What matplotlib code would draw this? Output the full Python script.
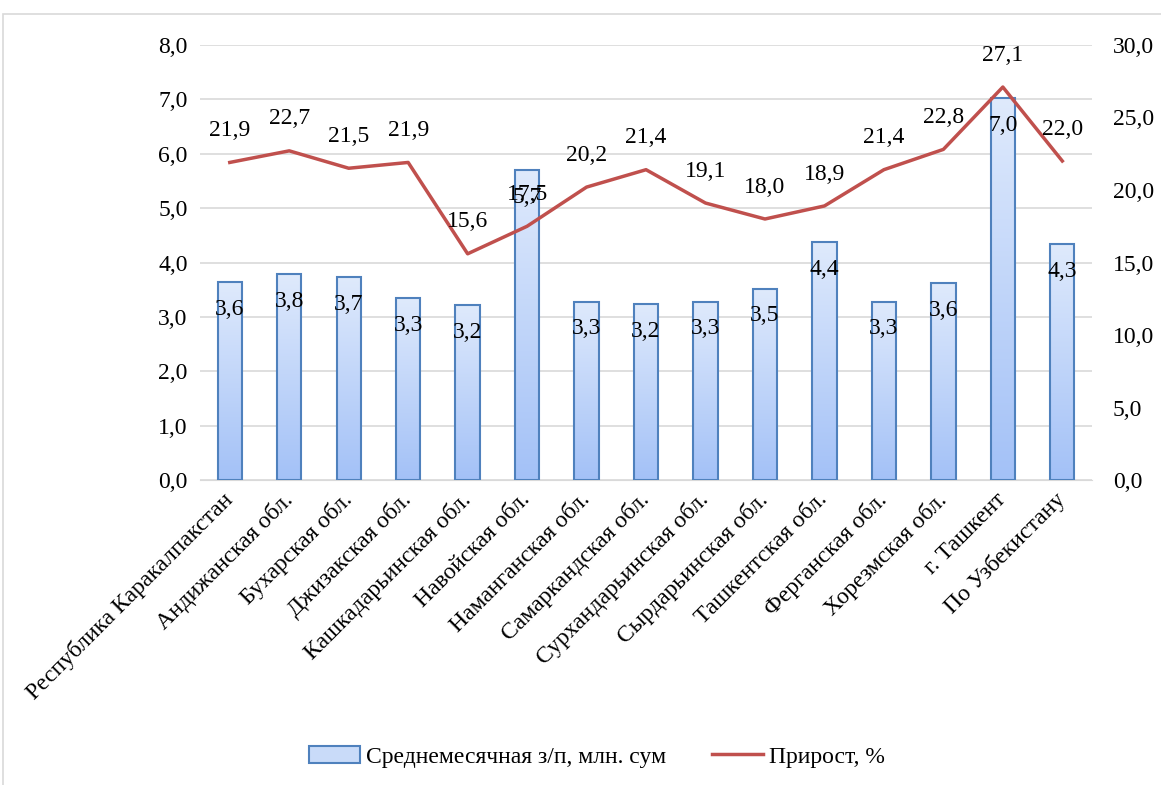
import numpy as np
import matplotlib.pyplot as plt
import matplotlib.transforms as mtransforms
from matplotlib.patches import Rectangle
from matplotlib.colors import LinearSegmentedColormap

plt.rcParams['font.family'] = ['Liberation Serif', 'DejaVu Serif']

# Donnees
regions = ['Республика Каракалпакстан', 'Андижанская обл.', 'Бухарская обл.',
           'Джизакская обл.', 'Кашкадарьинская обл.', 'Навойская обл.',
           'Наманганская обл.', 'Самаркандская обл.', 'Сурхандарьинская обл.',
           'Сырдарьинская обл.', 'Ташкентская обл.', 'Ферганская обл.',
           'Хорезмская обл.', 'г. Ташкент', 'По Узбекистану']
zp = [3.64, 3.78, 3.73, 3.34, 3.22, 5.70, 3.28, 3.24, 3.28, 3.52, 4.38, 3.28, 3.62, 7.02, 4.34]
prirost = [21.9, 22.7, 21.5, 21.9, 15.6, 17.5, 20.2, 21.4, 19.1, 18.0, 18.9, 21.4, 22.8, 27.1, 22.0]

fs = 17

fig = plt.figure(figsize=(11.61, 7.85), dpi=100)
ax = fig.add_axes([0.1723, 0.3885, 0.7683, 0.5542])
ax2 = ax.twinx()

x = np.arange(len(regions))
bars = ax.bar(x, zp, width=0.41, color='none', edgecolor='#4f81bd', linewidth=1.5, zorder=3,
              label='Среднемесячная з/п, млн. сум')

# degrade vertical dans chaque barre
grad = np.linspace(0, 1, 256).reshape(-1, 1)
cmap = LinearSegmentedColormap.from_list('bleu', ['#a3c1f7', '#dfeafc'])
for b in bars:
    x0, y0, w, h = b.get_x(), b.get_y(), b.get_width(), b.get_height()
    im = ax.imshow(grad, cmap=cmap, aspect='auto', extent=(x0, x0 + w, y0, y0 + h),
                   origin='lower', zorder=2)
    im.set_clip_path(b)

for xi, v in zip(x, zp):
    ax.text(xi, v - 0.5, f'{v:.1f}'.replace('.', ','), ha='center', va='center', fontsize=fs, zorder=5)

ax.set_xlim(-0.5, len(regions) - 0.5)
ax.set_ylim(0, 8)
ax.set_yticks(np.arange(0, 8.1, 1))
ax.set_yticklabels([f'{v:.1f}'.replace('.', ',') for v in np.arange(0, 8.1, 1)])
ax.grid(axis='y', color='#d9d9d9', linewidth=1.2, zorder=0)
ax.set_axisbelow(True)
ax.set_xticks(x)
ax.set_xticklabels(regions, rotation=45, ha='right', va='center', rotation_mode='anchor', fontsize=fs)
decal = mtransforms.ScaledTranslation(5 / 100, -2 / 100, fig.dpi_scale_trans)
for lab in ax.get_xticklabels():
    lab.set_transform(lab.get_transform() + decal)
ax.tick_params(axis='y', length=0, labelsize=fs, pad=9)
ax.tick_params(axis='x', length=0, pad=12)

ax2.plot(x, prirost, color='#c0504d', linewidth=2.5, zorder=4, label='Прирост, %')
for xi, v in zip(x, prirost):
    ax2.text(xi, v + 2.2, f'{v:.1f}'.replace('.', ','), ha='center', va='center', fontsize=fs, zorder=5)
ax2.set_ylim(0, 30)
ax2.set_yticks(np.arange(0, 31, 5))
ax2.set_yticklabels([f'{v:.1f}'.replace('.', ',') for v in np.arange(0, 31, 5)])
ax2.tick_params(length=0, labelsize=fs, pad=15)

for a in (ax, ax2):
    for s in a.spines.values():
        s.set_visible(False)
ax.spines['bottom'].set_visible(True)
ax.spines['bottom'].set_color('#d9d9d9')

# legende
h1, l1 = ax.get_legend_handles_labels()
h2, l2 = ax2.get_legend_handles_labels()
leg = fig.legend(h1 + h2, l1 + l2, loc='center', bbox_to_anchor=(0.514, 0.036), ncol=2,
                 frameon=False, fontsize=fs, handlelength=2.15, handletextpad=0.25, columnspacing=1.95)
leg.legend_handles[0].set_facecolor('#c9dbf9')

# cadre du graphique
fig.patches.append(Rectangle((3 / 1161, -0.01), 1.0, 1 - 14 / 785 + 0.01, transform=fig.transFigure,
                             fill=False, edgecolor='#d9d9d9', linewidth=1.2))

fig.savefig('out.png', dpi=100)
